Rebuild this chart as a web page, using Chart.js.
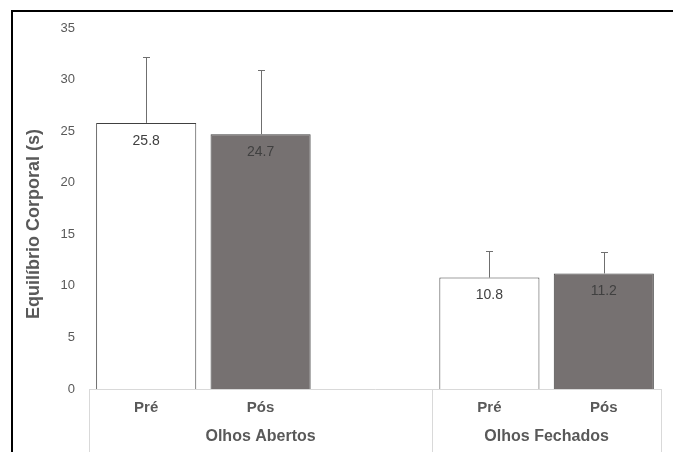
<!DOCTYPE html>
<html>
<head>
<meta charset="utf-8">
<script src="https://cdn.jsdelivr.net/npm/chart.js@4/dist/chart.umd.min.js"></script>
<style>
  html, body { margin: 0; padding: 0; background: #fff; }
  #wrap { position: relative; width: 673px; height: 452px; overflow: hidden; }
  canvas { position: absolute; left: 0; top: 0; }
  #frame { position: absolute; left: 11px; top: 10px; width: 800px; height: 600px;
           border-top: 2px solid #000; border-left: 2px solid #000; pointer-events: none; }
</style>
</head>
<body>
<div id="wrap">
  <canvas id="c" width="673" height="452"></canvas>
  <div id="frame"></div>
</div>
<script>
// ---- data ----
const categories = ['Pré', 'Pós', '', 'Pré', 'Pós'];
const groupNames = ['Olhos Abertos', 'Olhos Fechados'];
const groupFirst = [0, 3];
const groupLast = [2, 4];
const means = [25.8, 24.7, null, 10.8, 11.2];
const sds = [6.4, 6.2, null, 2.6, 2.1];
const yTicks = [0, 5, 10, 15, 20, 25, 30, 35];
const yTitle = 'Equilíbrio Corporal (s)';
const dataLabels = ['25.8', '24.7', '', '10.8', '11.2'];

const barColors = ['#ffffff', '#767171', '#ffffff', '#ffffff', '#767171'];
const FONT = '"Liberation Sans", Arial, sans-serif';
const TEXT = '#595959';

const extras = {
  id: 'extras',
  afterDatasetsDraw(chart) {
    const ctx = chart.ctx;
    const ys = chart.scales.y;
    const meta = chart.getDatasetMeta(0);
    ctx.save();
    // error bars
    ctx.strokeStyle = '#6f6f6f';
    ctx.lineWidth = 1;
    meta.data.forEach((bar, i) => {
      if (means[i] == null) return;
      const x = Math.round(bar.x) + 0.5;
      const y0 = ys.getPixelForValue(means[i]);
      const y1 = Math.round(ys.getPixelForValue(means[i] + sds[i])) + 0.5;
      ctx.beginPath();
      ctx.moveTo(x, y0);
      ctx.lineTo(x, y1);
      ctx.moveTo(x - 3.5, y1);
      ctx.lineTo(x + 3.5, y1);
      ctx.stroke();
    });
    // data labels
    ctx.font = '14px ' + FONT;
    ctx.fillStyle = '#404040';
    ctx.textAlign = 'center';
    ctx.textBaseline = 'middle';
    meta.data.forEach((bar, i) => {
      if (means[i] == null) return;
      ctx.fillText(dataLabels[i], bar.x, bar.y + 18);
    });
    ctx.restore();
  },
  afterDraw(chart) {
    const ctx = chart.ctx;
    const xs = chart.scales.x;
    const area = chart.chartArea;
    const half = (xs.getPixelForValue(1) - xs.getPixelForValue(0)) / 2;
    ctx.save();
    // separators
    ctx.strokeStyle = '#d9d9d9';
    ctx.lineWidth = 1;
    const edges = [xs.getPixelForValue(groupFirst[0]) - half];
    groupLast.forEach(l => edges.push(xs.getPixelForValue(l) + half));
    edges.forEach(e => {
      const x = Math.round(e) + 0.5;
      ctx.beginPath();
      ctx.moveTo(x, area.bottom);
      ctx.lineTo(x, chart.height);
      ctx.stroke();
    });
    // group labels
    ctx.font = 'bold 16px ' + FONT;
    ctx.fillStyle = TEXT;
    ctx.textAlign = 'center';
    ctx.textBaseline = 'middle';
    groupNames.forEach((g, i) => {
      const a = xs.getPixelForValue(groupFirst[i]) - half;
      const b = xs.getPixelForValue(groupLast[i]) + half;
      ctx.fillText(g, (a + b) / 2, area.bottom + 48);
    });
    // y title
    ctx.font = 'bold 18px ' + FONT;
    ctx.translate(34, 224);
    ctx.rotate(-Math.PI / 2);
    ctx.fillText(yTitle, 0, 0);
    ctx.restore();
  }
};

new Chart(document.getElementById('c'), {
  type: 'bar',
  data: {
    labels: categories,
    datasets: [{
      data: means,
      backgroundColor: barColors,
      borderColor: '#404040',
      borderWidth: 1,
      barPercentage: 0.875,
      categoryPercentage: 1
    }]
  },
  options: {
    responsive: false,
    animation: false,
    devicePixelRatio: 1,
    layout: { padding: { left: 0, top: 28, right: 12, bottom: 0 } },
    plugins: { legend: { display: false }, tooltip: { enabled: false } },
    scales: {
      x: {
        grid: { display: false, drawTicks: false },
        border: { display: true, color: '#d9d9d9', width: 1 },
        ticks: { color: TEXT, font: { family: FONT, size: 15, weight: 'bold' },
                 padding: 10, maxRotation: 0, autoSkip: false },
        afterFit(s) { s.height = 63; }
      },
      y: {
        min: 0, max: 35,
        grid: { display: false, drawTicks: false },
        border: { display: false },
        afterBuildTicks(s) { s.ticks = yTicks.map(v => ({ value: v })); },
        ticks: { color: TEXT, font: { family: FONT, size: 13 }, padding: 14 },
        afterFit(s) { s.width = 89; }
      }
    }
  },
  plugins: [extras]
});
</script>
</body>
</html>
